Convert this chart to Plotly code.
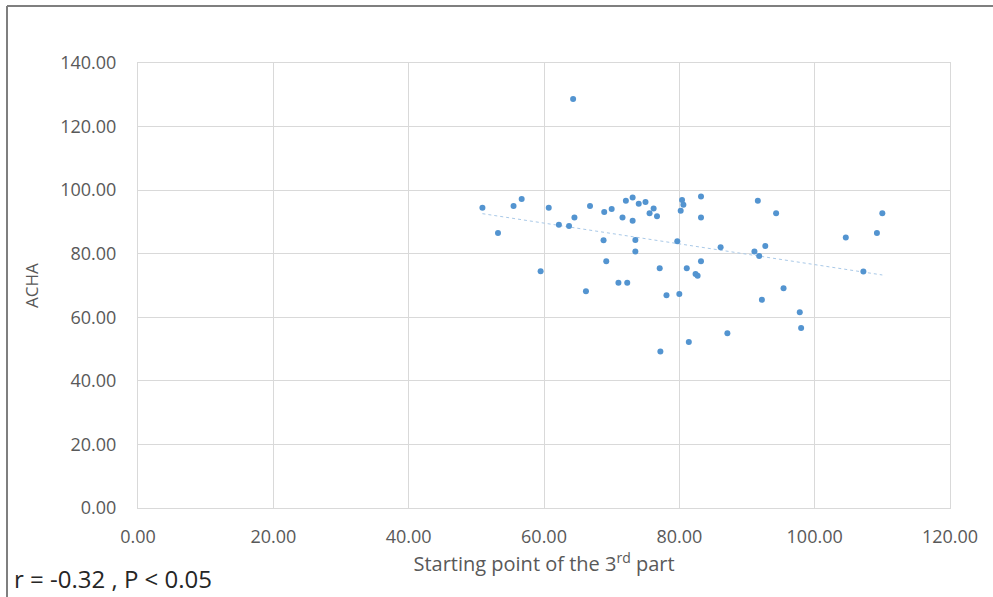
import numpy as np
import plotly.graph_objects as go

start_point = [50.9, 53.2, 55.5, 56.7, 59.5, 60.7, 62.2, 63.7, 64.3, 64.5,
               66.2, 66.8, 68.8, 68.9, 69.2, 70.0, 71.0, 71.6, 72.1, 72.3,
               73.1, 73.1, 73.5, 73.5, 74.0, 75.0, 75.6, 76.2, 76.7, 77.1,
               77.2, 78.1, 79.7, 80.0, 80.2, 80.4, 80.6, 81.1, 81.4, 82.4,
               82.7, 83.2, 83.2, 83.2, 86.1, 87.1, 91.1, 91.6, 91.8, 92.2,
               92.7, 94.3, 95.4, 97.8, 98.0, 104.6, 107.2, 109.2, 110.0]
acha = [94.5, 86.5, 95.0, 97.2, 74.5, 94.5, 89.1, 88.7, 128.7, 91.4,
        68.2, 95.0, 84.2, 93.1, 77.6, 94.1, 70.9, 91.4, 96.7, 70.9,
        97.7, 90.4, 84.3, 80.7, 95.7, 96.3, 92.7, 94.2, 91.8, 75.4,
        49.2, 66.9, 83.9, 67.3, 93.5, 96.9, 95.4, 75.4, 52.2, 73.6,
        73.1, 98.0, 91.4, 77.6, 82.0, 55.0, 80.7, 96.7, 79.3, 65.5,
        82.4, 92.7, 69.1, 61.6, 56.6, 85.1, 74.4, 86.5, 92.7]

x_arr = np.array(start_point)
y_arr = np.array(acha)
slope, intercept = np.polyfit(x_arr, y_arr, 1)
trend_x = [x_arr.min(), x_arr.max()]
trend_y = [slope * v + intercept for v in trend_x]

font_family = "Open Sans"
grey = "#595959"
grid = "#d9d9d9"

fig = go.Figure()
fig.add_trace(go.Scatter(
    x=trend_x, y=trend_y, mode="lines",
    line=dict(color="#a9c9e8", width=1, dash="dot"),
    showlegend=False, hoverinfo="skip"))
fig.add_trace(go.Scatter(
    x=start_point, y=acha, mode="markers",
    marker=dict(color="#5394d0", size=6, line=dict(width=0)),
    showlegend=False))

fig.update_layout(
    width=993, height=597,
    margin=dict(l=138, r=43, t=63, b=89),
    paper_bgcolor="white", plot_bgcolor="white",
    font=dict(family=font_family, color=grey, size=18),
    xaxis=dict(range=[0, 120], dtick=20, tick0=0, tickformat=".2f",
               showgrid=True, gridcolor=grid, gridwidth=1, zeroline=False,
               showline=True, linecolor=grid, linewidth=1, mirror=True,
               ticks="", ticklabelstandoff=12, tickfont=dict(size=18),
               title=dict(text="Starting point of the 3<sup>rd</sup> part",
                          font=dict(size=20, color=grey), standoff=8)),
    yaxis=dict(range=[0, 140], dtick=20, tick0=0, tickformat=".2f",
               showgrid=True, gridcolor=grid, gridwidth=1, zeroline=False,
               showline=True, linecolor=grid, linewidth=1, mirror=True,
               ticks="", ticklabelstandoff=17, tickfont=dict(size=18),
               title=dict(text="ACHA", font=dict(size=17, color=grey), standoff=17)),
    shapes=[
        dict(type="line", xref="paper", yref="paper",
             x0=-131/812, x1=1.06, y0=(597-6-89)/445, y1=(597-6-89)/445,
             line=dict(color="#7f7f7f", width=2)),
        dict(type="line", xref="paper", yref="paper",
             x0=-131/812, x1=-131/812, y0=(597-6-89)/445, y1=-89/445,
             line=dict(color="#7f7f7f", width=2)),
    ],
    annotations=[dict(
        text="r = -0.32 , P &lt; 0.05", xref="paper", yref="paper",
        x=-126/812, y=-(578-508)/445, xanchor="left", yanchor="middle",
        showarrow=False, font=dict(size=24, color="#262626", family=font_family))],
)

fig.write_html("out.html")
